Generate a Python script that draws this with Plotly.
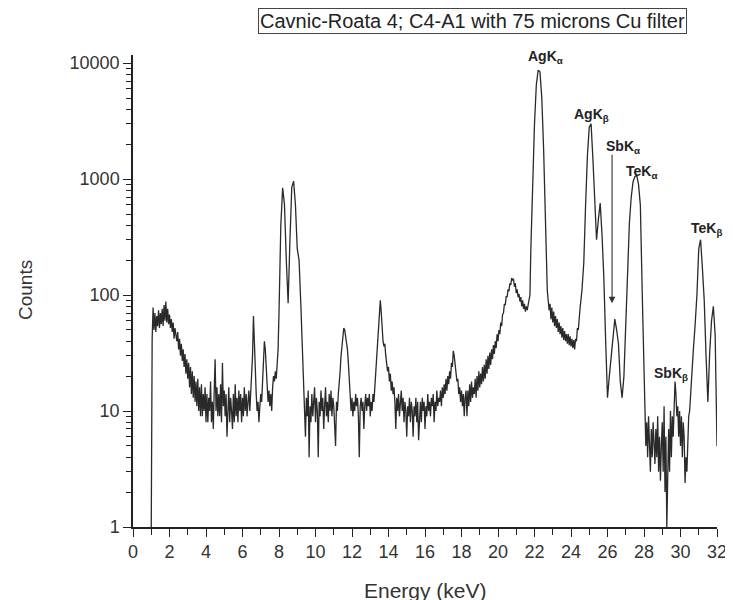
import numpy as np
import plotly.graph_objects as go

# ---------------- data ----------------
# Each segment: first energy (keV), channel step (keV), counts.
seg_low_start, seg_low_step = 1.0, 0.05
seg_low = [
    1, 42, 78, 50, 70, 48, 66, 54, 74, 52,          # 1.00 - 1.45
    70, 56, 76, 54, 82, 60, 88, 58, 76, 56,         # 1.50
    68, 52, 62, 48, 58, 42, 52, 44, 40, 48,         # 2.00
    34, 42, 30, 38, 27, 34, 24, 31, 21, 28,         # 2.50
    19, 26, 16, 24, 14, 22, 13, 20, 12, 18,         # 3.00
    11, 19, 10, 16, 9, 17, 9, 14, 10, 16,           # 3.50
    8, 14, 8, 13, 10, 18, 8, 12, 7, 15,             # 4.00
    28, 10, 16, 9, 14, 9, 17, 8, 26, 11,            # 4.50
    15, 9, 14, 6, 12, 16, 8, 13, 10, 7,             # 5.00
    14, 8, 17, 9, 13, 8, 15, 10, 14, 8,             # 5.50
    13, 9, 16, 10, 14, 9, 12, 15, 10, 14,           # 6.00
    18, 30, 66, 45, 24, 14, 10, 12, 8, 11,          # 6.50
    14, 12, 18, 26, 40, 34, 22, 16, 12, 15,         # 7.00
    11, 14, 10, 16, 20, 18, 22, 19, 26, 34,         # 7.50
]
seg_cu_start, seg_cu_step = 8.0, 0.1
seg_cu = [70, 400, 840, 600, 200, 85, 300, 850, 960, 600, 250, 200, 80]   # 8.0 - 9.2

seg_mid_start, seg_mid_step = 9.3, 0.05
seg_mid = [
    30, 16, 10, 6, 13, 9, 15, 4, 11, 8,             # 9.30 - 9.75
    14, 9, 12, 16, 8, 13, 10, 4, 12, 9,             # 9.80
    15, 10, 13, 7, 11, 16, 9, 12, 8, 14,            # 10.30
    10, 15, 9, 13, 11, 8, 5, 12, 10, 14,            # 10.80
    17, 22, 30, 38, 46, 52, 50, 45, 40, 34,         # 11.30
    26, 18, 14, 10, 13, 9, 12, 10, 14, 11,          # 11.80
    13, 9, 4, 11, 13, 10, 12, 7, 11, 14,            # 12.30
    10, 13, 11, 14, 9, 12, 10, 14, 12, 16,          # 12.80
    22, 30, 45, 62, 80, 90, 72, 48, 40, 36,         # 13.30
    38, 30, 26, 22, 24, 18, 21, 15, 18, 14,         # 13.80
    16, 12, 7, 13, 10, 14, 9, 12, 15, 10,           # 14.30
    13, 8, 12, 10, 6, 11, 9, 13, 8, 12,             # 14.80
    10, 6, 11, 9, 13, 8, 12, 5.6, 10, 12,           # 15.30
    8, 13, 10, 12, 7, 11, 9, 14, 10, 12,            # 15.80
    9, 13, 11, 14, 8, 12, 10, 15, 11, 13,           # 16.30
    12, 15, 11, 16, 13, 17, 14, 19, 15, 20,         # 16.80
    17, 22, 19, 26, 24, 33, 30, 26, 22, 18,         # 17.30
    19, 14, 16, 12, 15, 11, 14, 9, 13, 15,          # 17.80
    9, 15, 11, 17, 12, 18, 13, 16, 14, 19,          # 18.30
    13, 20, 15, 22, 16, 21, 17, 24, 18, 25,         # 18.80
    19, 28, 21, 30, 23, 32, 25, 34, 28, 37,         # 19.30
    31, 40, 35, 46, 40, 50, 46, 58, 54, 68,         # 19.80
    70, 84, 82, 98, 96, 112, 108, 126, 122, 140,    # 20.30
    134, 138, 118, 126, 104, 112, 96, 102, 88, 96,  # 20.80
    80, 90, 76, 84, 72, 80, 74, 82, 86, 100,        # 21.30
]
seg_agka_start, seg_agka_step = 21.8, 0.1
seg_agka = [250, 900, 3000, 6500, 8700, 8400, 5000, 1800, 500, 110]    # 21.8 - 22.7

seg_gap_start, seg_gap_step = 22.8, 0.05
seg_gap = [
    74, 84, 62, 78, 58, 72, 54, 66, 52, 62,         # 22.80 - 23.25
    48, 58, 46, 54, 43, 52, 41, 49, 40, 46,         # 23.30
    38, 46, 37, 44, 36, 42, 35, 41, 34, 42,         # 23.80
    40, 52, 50, 68, 78,                             # 24.30 - 24.50
]
seg_peaks_start, seg_peaks_step = 24.6, 0.1
seg_peaks = [
    110, 190, 600, 1600, 2800, 3000, 1500, 560, 300, 450,   # 24.6 - 25.5
    620, 330, 140, 40, 13, 20, 30, 48, 62, 50,              # 25.6 - 26.5
    38, 18, 13, 20, 60, 180, 420, 700, 950, 1050,           # 26.6 - 27.5
    1080, 900, 600, 110,                                    # 27.6 - 27.9
]
seg_high_start, seg_high_step = 28.0, 0.05
seg_high = [
    16, 9, 5, 8, 4, 9, 6, 3, 7, 4,                  # 28.00 - 28.45
    8, 5, 3.5, 7, 4, 9, 3, 6, 2.5, 5,               # 28.50
    8, 3, 11, 2, 6, 1, 4, 7, 3, 10,                 # 29.00
    4, 9, 6, 12, 18, 14, 9, 11, 6, 10,              # 29.50
    5, 9, 4, 8, 6, 2.4, 4, 3, 6, 9,                 # 30.00
    10, 14, 18,                                     # 30.50 - 30.60
]
seg_te_start, seg_te_step = 30.7, 0.1
seg_te = [33, 55, 100, 250, 300, 170, 90, 30, 12, 32, 60, 80, 45, 5]   # 30.7 - 32.0

segments = [
    (seg_low_start, seg_low_step, seg_low),
    (seg_cu_start, seg_cu_step, seg_cu),
    (seg_mid_start, seg_mid_step, seg_mid),
    (seg_agka_start, seg_agka_step, seg_agka),
    (seg_gap_start, seg_gap_step, seg_gap),
    (seg_peaks_start, seg_peaks_step, seg_peaks),
    (seg_high_start, seg_high_step, seg_high),
    (seg_te_start, seg_te_step, seg_te),
]
energy = np.concatenate([np.round(s + d * np.arange(len(v)), 3) for s, d, v in segments])
counts = np.concatenate([np.asarray(v, dtype=float) for _, _, v in segments])

x_tick_vals = list(range(0, 33, 2))
x_tick_text = [str(v) for v in x_tick_vals]
y_tick_vals = [1, 10, 100, 1000, 10000]
y_tick_text = ["1", "10", "100", "1000", "10000"]
y_minor_vals = [m * d for d in (1, 10, 100, 1000) for m in range(2, 10)]

peak_labels = ["AgK<sub>α</sub>", "AgK<sub>β</sub>", "SbK<sub>α</sub>",
               "TeK<sub>α</sub>", "TeK<sub>β</sub>", "SbK<sub>β</sub>"]
peak_label_energy = [22.6, 25.15, 26.85, 27.84, 31.45, 29.48]
peak_label_counts = [11200, 3600, 1900, 1160, 370, 21]

title_text = "Cavnic-Roata 4; C4-A1 with 75 microns Cu filter"
x_title = "Energy (keV)"
y_title = "Counts"
arrow_energy = 26.25
arrow_counts = 85

# ---------------- figure ----------------
FONT = "Liberation Sans, Arial, sans-serif"
INK = "#222222"
PAGE_OFFSET = 8                     # default body margin of the html page
W, H = 733 - PAGE_OFFSET, 600 - PAGE_OFFSET
# plot area in window pixels: x 133..717, y 55..527
ML = 133 - PAGE_OFFSET
MR = 733 - 717
MT = 55 - PAGE_OFFSET
MB = 600 - 527
PW, PH = W - ML - MR, H - MT - MB


def px_to_paper(px, py):
    """window pixel -> paper coordinates"""
    px -= PAGE_OFFSET
    py -= PAGE_OFFSET
    return (px - ML) / PW, (H - MB - py) / PH


fig = go.Figure()
fig.add_trace(go.Scatter(
    x=energy, y=counts, mode="lines",
    line=dict(color="#2a2a2a", width=1.3),
    showlegend=False, hoverinfo="x+y",
))

annotations = []
for lab, e, c in zip(peak_labels, peak_label_energy, peak_label_counts):
    annotations.append(dict(
        x=e, y=np.log10(c), xref="x", yref="y", text="<b>" + lab + "</b>",
        showarrow=False, xanchor="center", yanchor="middle",
        font=dict(family=FONT, size=14, color=INK),
    ))
annotations.append(dict(
    x=arrow_energy, y=np.log10(arrow_counts), xref="x", yref="y", text="",
    showarrow=True, arrowhead=2, arrowsize=1.2, arrowwidth=1.1, arrowcolor="#333",
    ax=0, ay=-150,
))
tx, ty = px_to_paper(472, 21)
annotations.append(dict(
    x=tx, y=ty, xref="paper", yref="paper", text=title_text, showarrow=False,
    font=dict(family=FONT, size=20, color=INK),
    bordercolor="#444", borderwidth=1, borderpad=1,
    xanchor="center", yanchor="middle",
))
cx, cy = px_to_paper(25, 290)
annotations.append(dict(
    x=cx, y=cy, xref="paper", yref="paper", text=y_title, showarrow=False,
    textangle=-90, font=dict(family=FONT, size=19, color="#333"),
    xanchor="center", yanchor="middle",
))
ex, ey = px_to_paper(425, 590)
annotations.append(dict(
    x=ex, y=ey, xref="paper", yref="paper", text=x_title, showarrow=False,
    font=dict(family=FONT, size=21, color="#333"),
    xanchor="center", yanchor="middle",
))

fig.update_layout(
    width=W, height=H,
    margin=dict(l=ML, r=MR, t=MT, b=MB, pad=0, autoexpand=False),
    paper_bgcolor="white", plot_bgcolor="white",
    font=dict(family=FONT, color=INK),
    annotations=annotations,
    xaxis=dict(
        range=[0, 32], tickmode="array", tickvals=x_tick_vals, ticktext=x_tick_text,
        ticks="outside", ticklen=8, tickwidth=1.3, tickcolor="#222",
        minor=dict(dtick=1, tick0=0, ticks="outside", ticklen=6, tickwidth=1.2,
                   tickcolor="#222", showgrid=False),
        showline=True, linecolor="#222", linewidth=1.5,
        showgrid=False, zeroline=False, automargin=False,
        tickfont=dict(size=18, color="#333"),
    ),
    yaxis=dict(
        type="log", range=[0, 4.07], tickmode="array", tickvals=y_tick_vals, ticktext=y_tick_text,
        ticks="outside", ticklen=8, tickwidth=1.3, tickcolor="#222",
        minor=dict(tickvals=y_minor_vals, ticks="outside", ticklen=5, tickwidth=1.1,
                   tickcolor="#222", showgrid=False),
        showline=True, linecolor="#222", linewidth=1.5,
        showgrid=False, zeroline=False, automargin=False,
        tickfont=dict(size=18, color="#333"),
    ),
)

fig.write_html("out.html")
